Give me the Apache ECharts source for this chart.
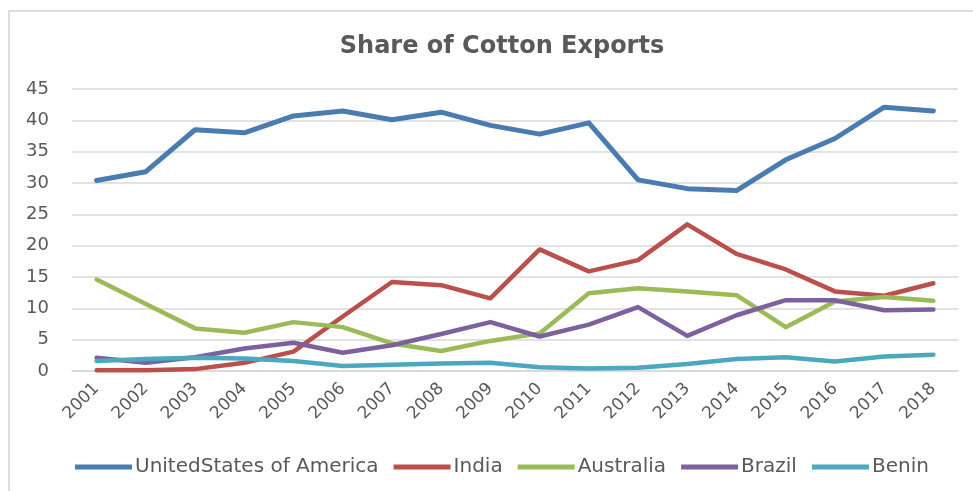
<!DOCTYPE html>
<html>
<head>
<meta charset="utf-8">
<script src="https://cdn.jsdelivr.net/npm/echarts@6/dist/echarts.min.js"></script>
<style>
  html, body { margin: 0; padding: 0; background: #fff; }
  #chart { width: 973px; height: 491px; }
</style>
</head>
<body>
<div id="chart"></div>
<script>
// Years on the category axis
const years = ['2001','2002','2003','2004','2005','2006','2007','2008','2009',
               '2010','2011','2012','2013','2014','2015','2016','2017','2018'];

// Share of cotton exports (%) by country
const usa       = [30.4, 31.8, 38.5, 38.0, 40.7, 41.5, 40.1, 41.3, 39.2, 37.8, 39.6, 30.5, 29.1, 28.8, 33.7, 37.1, 42.1, 41.5];
const india     = [0.1, 0.1, 0.3, 1.3, 3.1, 8.7, 14.2, 13.7, 11.6, 19.4, 15.9, 17.7, 23.4, 18.7, 16.2, 12.7, 12.0, 14.0];
const australia = [14.6, 10.7, 6.8, 6.1, 7.8, 7.0, 4.4, 3.2, 4.8, 6.0, 12.4, 13.2, 12.7, 12.1, 7.0, 11.1, 11.8, 11.2];
const brazil    = [2.1, 1.3, 2.2, 3.6, 4.5, 2.9, 4.1, 5.9, 7.8, 5.5, 7.4, 10.2, 5.6, 8.9, 11.3, 11.3, 9.7, 9.8];
const benin     = [1.6, 1.9, 2.1, 2.0, 1.6, 0.8, 1.0, 1.2, 1.3, 0.6, 0.4, 0.5, 1.1, 1.9, 2.2, 1.5, 2.3, 2.6];

// Y axis ticks
const yTicks = [0, 5, 10, 15, 20, 25, 30, 35, 40, 45];

const seriesNames  = ['UnitedStates of America', 'India', 'Australia', 'Brazil', 'Benin'];
const seriesData   = [usa, india, australia, brazil, benin];
const seriesColors = ['#4a7cb2', '#ba4f4b', '#9bbb59', '#7d619e', '#4ba8bf'];
const seriesWidths = [5, 4.5, 4.5, 4.5, 4.5];

const chart = echarts.init(document.getElementById('chart'), null, { renderer: 'canvas' });

const textColor = '#595959';
const gridColor = '#d9d9d9';

chart.setOption({
  backgroundColor: '#ffffff',
  animation: false,
  graphic: [{
    type: 'rect',
    shape: { x: 9, y: 11, width: 1000, height: 520 },
    style: { fill: 'none', stroke: '#d4d4d4', lineWidth: 1.5 },
    silent: true
  }],
  title: {
    text: 'Share of Cotton Exports',
    left: 497,
    textAlign: 'center',
    top: 30,
    textStyle: {
      fontFamily: 'DejaVu Sans',
      fontWeight: 'bold',
      fontSize: 24,
      color: textColor
    }
  },
  legend: {
    data: seriesNames,
    left: 70,
    top: 452,
    icon: 'rect',
    itemWidth: 57,
    itemHeight: 5,
    itemGap: 15,
    textStyle: {
      fontFamily: 'DejaVu Sans',
      fontSize: 20,
      color: textColor,
      padding: [0, 0, 0, -2]
    }
  },
  grid: {
    left: 72,
    right: 15,
    top: 89,
    bottom: 120,
    containLabel: false
  },
  xAxis: {
    type: 'category',
    data: years,
    boundaryGap: true,
    axisLine: { show: true, lineStyle: { color: gridColor, width: 1.5 } },
    axisTick: { show: false },
    axisLabel: {
      rotate: 45,
      interval: 0,
      margin: 15,
      fontFamily: 'DejaVu Sans',
      fontSize: 17,
      color: textColor
    }
  },
  yAxis: {
    type: 'value',
    min: yTicks[0],
    max: yTicks[yTicks.length - 1],
    interval: yTicks[1] - yTicks[0],
    axisLine: { show: false },
    axisTick: { show: false },
    axisLabel: {
      margin: 23,
      fontFamily: 'DejaVu Sans',
      fontSize: 18,
      color: textColor
    },
    splitLine: { show: true, lineStyle: { color: gridColor, width: 1.5 } }
  },
  series: seriesNames.map((name, i) => ({
    name: name,
    type: 'line',
    data: seriesData[i],
    showSymbol: false,
    symbol: 'none',
    smooth: false,
    color: seriesColors[i],
    lineStyle: { width: seriesWidths[i], color: seriesColors[i], cap: 'round', join: 'round' },
    z: 2 + i
  }))
});
</script>
</body>
</html>
